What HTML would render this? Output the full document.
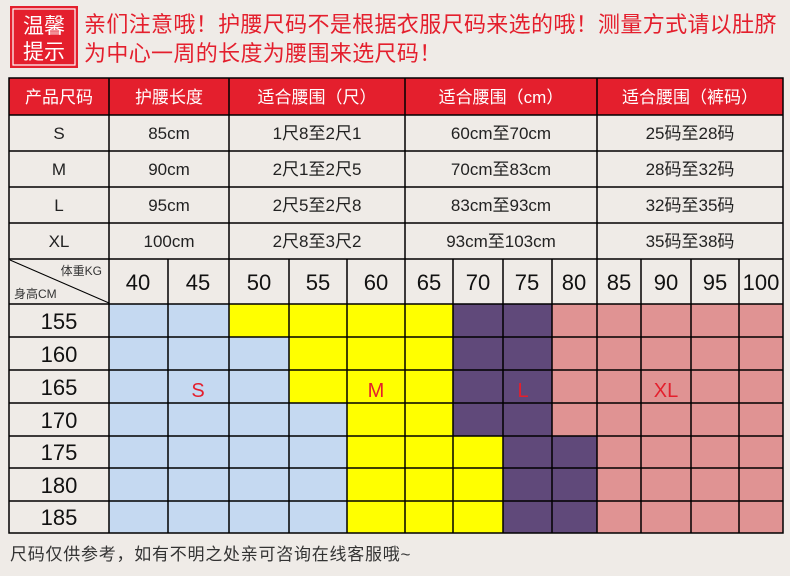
<!DOCTYPE html>
<html><head><meta charset="utf-8"><style>
html,body{margin:0;padding:0;width:790px;height:576px;background:#efebe7;overflow:hidden}
</style></head><body>
<svg width="790" height="576" xmlns="http://www.w3.org/2000/svg" style="position:absolute;left:0;top:0;font-family:'Liberation Sans','Noto Sans CJK SC',sans-serif">
<rect width="790" height="576" fill="#efebe7"/>
<rect x="10" y="6" width="68" height="62" fill="#e41f2d"/>
<rect x="13" y="9" width="62" height="56" fill="none" stroke="#fff" stroke-width="1.2"/>
<text x="44" y="33" fill="#fff" font-size="21" text-anchor="middle">温馨</text>
<text x="44" y="59" fill="#fff" font-size="21" text-anchor="middle">提示</text>
<text x="84" y="32" fill="#e41f2d" font-size="22" letter-spacing="0.35">亲们注意哦！护腰尺码不是根据衣服尺码来选的哦！测量方式请以肚脐</text>
<text x="84" y="61" fill="#e41f2d" font-size="22" letter-spacing="0.35">为中心一周的长度为腰围来选尺码！</text>
<rect x="9" y="78" width="774" height="37" fill="#e41f2d"/>
<g fill="#fff" font-size="17" text-anchor="middle">
<text x="59" y="103">产品尺码</text><text x="169" y="103">护腰长度</text><text x="317" y="103">适合腰围（尺）</text><text x="501" y="103">适合腰围（cm）</text><text x="690" y="103">适合腰围（裤码）</text>
</g>
<g fill="#222" font-size="17" text-anchor="middle">
<text x="59" y="139">S</text><text x="169" y="139">85cm</text><text x="317" y="139">1尺8至2尺1</text><text x="501" y="139">60cm至70cm</text><text x="690" y="139">25码至28码</text>
<text x="59" y="175">M</text><text x="169" y="175">90cm</text><text x="317" y="175">2尺1至2尺5</text><text x="501" y="175">70cm至83cm</text><text x="690" y="175">28码至32码</text>
<text x="59" y="211">L</text><text x="169" y="211">95cm</text><text x="317" y="211">2尺5至2尺8</text><text x="501" y="211">83cm至93cm</text><text x="690" y="211">32码至35码</text>
<text x="59" y="247">XL</text><text x="169" y="247">100cm</text><text x="317" y="247">2尺8至3尺2</text><text x="501" y="247">93cm至103cm</text><text x="690" y="247">35码至38码</text>
</g>
<g stroke="#000" stroke-width="1.5" fill="none">
<line x1="9" y1="115" x2="783" y2="115"/><line x1="9" y1="151" x2="783" y2="151"/><line x1="9" y1="187" x2="783" y2="187"/><line x1="9" y1="223" x2="783" y2="223"/><line x1="9" y1="259" x2="783" y2="259"/>
<line x1="109" y1="78" x2="109" y2="259"/><line x1="229" y1="78" x2="229" y2="259"/><line x1="405" y1="78" x2="405" y2="259"/><line x1="597" y1="78" x2="597" y2="259"/>
</g>
<g stroke="none">
<rect x="109" y="304" width="120" height="229" fill="#c5d9f1"/>
<rect x="229" y="337" width="60" height="196" fill="#c5d9f1"/>
<rect x="289" y="403" width="58" height="130" fill="#c5d9f1"/>
<rect x="229" y="304" width="60" height="33" fill="#ffff00"/>
<rect x="289" y="304" width="58" height="99" fill="#ffff00"/>
<rect x="347" y="304" width="106" height="229" fill="#ffff00"/>
<rect x="453" y="436" width="50" height="97" fill="#ffff00"/>
<rect x="453" y="304" width="99" height="132" fill="#60497a"/>
<rect x="503" y="436" width="94" height="97" fill="#60497a"/>
<rect x="552" y="304" width="231" height="132" fill="#e09393"/>
<rect x="597" y="436" width="186" height="97" fill="#e09393"/>
</g>
<g stroke="#000" stroke-width="1.5" fill="none">
<rect x="9" y="78" width="774" height="455"/>
<line x1="9" y1="304" x2="783" y2="304"/><line x1="9" y1="337" x2="783" y2="337"/><line x1="9" y1="370" x2="783" y2="370"/><line x1="9" y1="403" x2="783" y2="403"/><line x1="9" y1="436" x2="783" y2="436"/><line x1="9" y1="468" x2="783" y2="468"/><line x1="9" y1="501" x2="783" y2="501"/>
<line x1="109" y1="259" x2="109" y2="533"/><line x1="168" y1="259" x2="168" y2="533"/><line x1="229" y1="259" x2="229" y2="533"/><line x1="289" y1="259" x2="289" y2="533"/><line x1="347" y1="259" x2="347" y2="533"/><line x1="405" y1="259" x2="405" y2="533"/><line x1="453" y1="259" x2="453" y2="533"/><line x1="503" y1="259" x2="503" y2="533"/><line x1="552" y1="259" x2="552" y2="533"/><line x1="597" y1="259" x2="597" y2="533"/><line x1="641" y1="259" x2="641" y2="533"/><line x1="691" y1="259" x2="691" y2="533"/><line x1="739" y1="259" x2="739" y2="533"/>
<line x1="10" y1="260" x2="109" y2="303" stroke-width="1"/>
</g>
<text x="102" y="275" fill="#333" font-size="12" text-anchor="end">体重KG</text>
<text x="14" y="298" fill="#333" font-size="12">身高CM</text>
<g fill="#111" font-size="22" text-anchor="middle">
<text x="138" y="290">40</text><text x="198" y="290">45</text><text x="259" y="290">50</text><text x="318" y="290">55</text><text x="376" y="290">60</text><text x="429" y="290">65</text><text x="478" y="290">70</text><text x="527" y="290">75</text><text x="574" y="290">80</text><text x="619" y="290">85</text><text x="666" y="290">90</text><text x="715" y="290">95</text><text x="761" y="290">100</text>
<text x="59" y="329">155</text><text x="59" y="362">160</text><text x="59" y="395">165</text><text x="59" y="428">170</text><text x="59" y="460">175</text><text x="59" y="493">180</text><text x="59" y="525">185</text>
</g>
<g fill="#e41f2d" font-size="20" text-anchor="middle">
<text x="198" y="397">S</text><text x="376" y="397">M</text><text x="523" y="397">L</text><text x="666" y="397">XL</text>
</g>
<text x="10" y="560" fill="#333" font-size="17" letter-spacing="0.75">尺码仅供参考，如有不明之处亲可咨询在线客服哦~</text>
</svg>
</body></html>
